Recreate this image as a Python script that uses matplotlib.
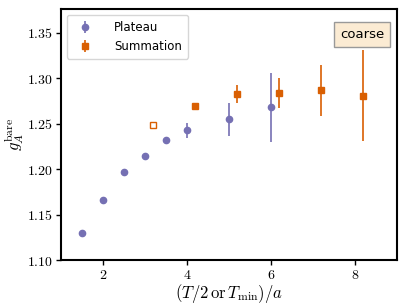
import numpy as np
import matplotlib
matplotlib.use('Agg')
import matplotlib.pyplot as plt
from matplotlib.ticker import FuncFormatter

plt.rcParams['mathtext.fontset'] = 'cm'

# plateau data
x_plat = [1.5, 2.0, 2.5, 3.0, 3.5, 4.0, 5.0, 6.0]
y_plat = [1.1305, 1.166, 1.197, 1.215, 1.232, 1.243, 1.255, 1.268]
e_plat = [0.001, 0.001, 0.001, 0.001, 0.004, 0.008, 0.018, 0.038]

# summation data (first point open)
x_sum = [4.2, 5.2, 6.2, 7.2, 8.2]
y_sum = [1.270, 1.283, 1.284, 1.287, 1.281]
e_sum = [0.003, 0.010, 0.0165, 0.028, 0.050]
x_sum_open = [3.2]
y_sum_open = [1.249]
e_sum_open = [0.001]

c_plat = '#7570b3'
c_sum = '#d95f02'

fig, ax = plt.subplots(figsize=(4.07, 3.07), dpi=100)
fig.subplots_adjust(left=0.15, right=0.975, bottom=0.152, top=0.97)

ax.errorbar(x_plat, y_plat, yerr=e_plat, fmt='o', color=c_plat, ms=4.5,
            elinewidth=1.2, capsize=0, label='Plateau')
ax.errorbar(x_sum, y_sum, yerr=e_sum, fmt='s', color=c_sum, ms=4.5,
            elinewidth=1.2, capsize=0, label='Summation')
ax.errorbar(x_sum_open, y_sum_open, yerr=e_sum_open, fmt='s', color=c_sum,
            mfc='white', ms=4.5, elinewidth=1.2, capsize=0)

ax.set_xlim(1.0, 9.0)
ax.set_ylim(1.10, 1.376)
ax.set_xticks([2, 4, 6, 8])
ax.set_yticks([1.10, 1.15, 1.20, 1.25, 1.30, 1.35])
ax.xaxis.set_major_formatter(FuncFormatter(lambda v, p: r'$%d$' % v))
ax.yaxis.set_major_formatter(FuncFormatter(lambda v, p: r'$%.2f$' % v))
ax.tick_params(labelsize=10, direction='out', length=3.5, width=1, pad=2)
for s in ax.spines.values():
    s.set_linewidth(1.5)

ax.set_xlabel(r'$(T/2\,{\rm or}\,T_{\rm min})/a$', fontsize=12, labelpad=0)
ax.set_ylabel(r'$g_A^{\rm bare}$', fontsize=12, labelpad=1)

ax.legend(loc='upper left', fontsize=8.5, handletextpad=1.5, borderpad=0.5)
ax.text(0.897, 0.898, 'coarse', transform=ax.transAxes, ha='center', va='center',
        fontsize=9.5, bbox=dict(boxstyle='square,pad=0.45', facecolor='#fbebd3',
                                edgecolor='#999999'))

plt.savefig('out.png', dpi=100)
